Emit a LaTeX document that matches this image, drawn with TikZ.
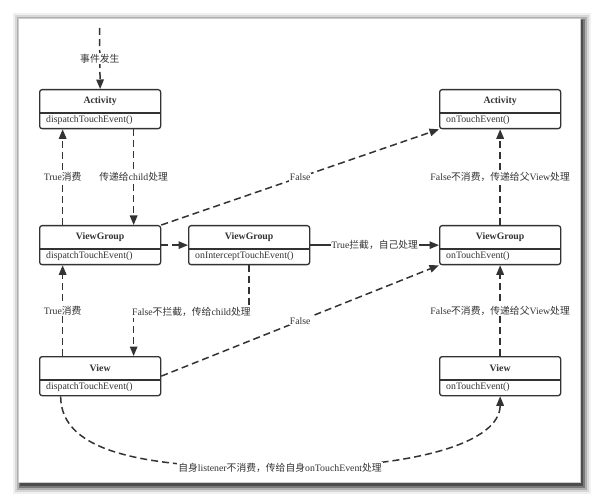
\documentclass[tikz,border=0pt]{standalone}
\usepackage{fontspec}
\setmainfont{Liberation Serif}
\newfontfamily\cjk{Noto Sans CJK SC}
\usetikzlibrary{arrows.meta}
\usetikzlibrary{calc}

\definecolor{inkgray}{HTML}{333333}

\begin{document}
\begin{tikzpicture}[x=1pt, y=-1pt,
				classbox/.style={draw=inkgray, line width=1.3pt, rounded corners=2.5pt, minimum width=121pt, minimum height=39pt, inner sep=0pt, anchor=north west},
				boxtitle/.style={font=\fontsize{9.8}{11}\selectfont\bfseries, text=inkgray, inner sep=0pt},
				boxmethod/.style={font=\fontsize{9.8}{11}\selectfont, text=inkgray, inner sep=0pt, anchor=west},
				flow/.style={draw=inkgray, line width=1.5pt, dash pattern=on 7pt off 4pt, -{Triangle[length=9.5pt, width=7.5pt]}},
				solidflow/.style={draw=inkgray, line width=1.3pt, -{Triangle[length=9.5pt, width=7.5pt]}},
				msg/.style={fill=white, text=inkgray, inner sep=1pt, font=\fontsize{9.8}{11}\selectfont},
				]
				% Sheet
				\useasboundingbox (0,0) rectangle (598,500);
				\fill[white] (0,0) rectangle (598,500);
				\foreach \b/\o in {8/0.06, 6/0.1, 4/0.18, 2/0.3}
					\fill[black, opacity=\o] ({21-\b},{21-\b}) rectangle ({583+\b},{486+\b});
				\fill[black!70] (20,20) rectangle (583,486);
				\fill[white, draw=gray!40, line width=0.3pt] (18,18) rectangle (580,482);

				% Nodes
				\foreach \n/\x/\y/\t/\m in {actD/39/89/Activity/dispatchTouchEvent,
						actT/439/89/Activity/onTouchEvent,
						vgD/39/225/ViewGroup/dispatchTouchEvent,
						vgI/188/225/ViewGroup/onInterceptTouchEvent,
						vgT/439/225/ViewGroup/onTouchEvent,
						vD/39/356/View/dispatchTouchEvent,
						vT/439/356/View/onTouchEvent}{
					\node[classbox] (\n) at (\x,\y) {};
					\draw[draw=inkgray, line width=1.3pt] ($(\n.north west)+(0,24)$) -- ($(\n.north east)+(0,24)$);
					\node[boxtitle] at ($(\n.north)+(0,12)$) {\t};
					\node[boxmethod] at ($(\n.north west)+(7,31.5)$) {\m()};
				}
				\coordinate (entry) at (99.5,28);

				% Dispatch
				\draw[flow] (entry) -- (actD.north)
					node[midway, msg] {\cjk 事件发生};
				\draw[flow] ([xshift=33.5pt]actD.south) -- ([xshift=33.5pt]vgD.north)
					node[midway, msg] {{\cjk 传递给}child{\cjk 处理}};
				\draw[flow] ([xshift=-37.5pt]vgD.north) -- ([xshift=-37.5pt]actD.south)
					node[midway, msg] {True{\cjk 消费}};
				\draw[flow] (vgD.east) -- (vgI.west);
				\draw[solidflow] (vgI.east) -- (vgT.west)
					node[midway, msg, inner sep=0.5pt] {True{\cjk 拦截，自己处理}};
				\draw[flow] (vgI.south) |- ($(vD.north)+(33.5,-44)$)
					node[pos=0.75, msg] {False{\cjk 不拦截，传给}child{\cjk 处理}} -- ([xshift=33.5pt]vD.north);
				\draw[flow] ([xshift=-37.5pt]vD.north) -- ([xshift=-37.5pt]vgD.south)
					node[midway, msg] {True{\cjk 消费}};

				% Handling
				\draw[flow] (vgD.north east) -- (actT.south west)
					node[midway, msg] {False};
				\draw[flow] (vD.east) -- (vgT.south west)
					node[midway, msg] {False};
				\draw[flow] (vgT.north) -- (actT.south)
					node[midway, msg] {False{\cjk 不消费，传递给父}View{\cjk 处理}};
				\draw[flow] (vT.north) -- (vgT.south)
					node[midway, msg] {False{\cjk 不消费，传递给父}View{\cjk 处理}};
				\draw[flow] ([xshift=-39.5pt]vD.south) .. controls +(0,58) and +(-130,0) .. (280,468)
					node[msg] {{\cjk 自身}listener{\cjk 不消费，传给自身}onTouchEvent{\cjk 处理}}
					.. controls +(140,0) and +(0,45) .. (vT.south);
			\end{tikzpicture}
\end{document}
